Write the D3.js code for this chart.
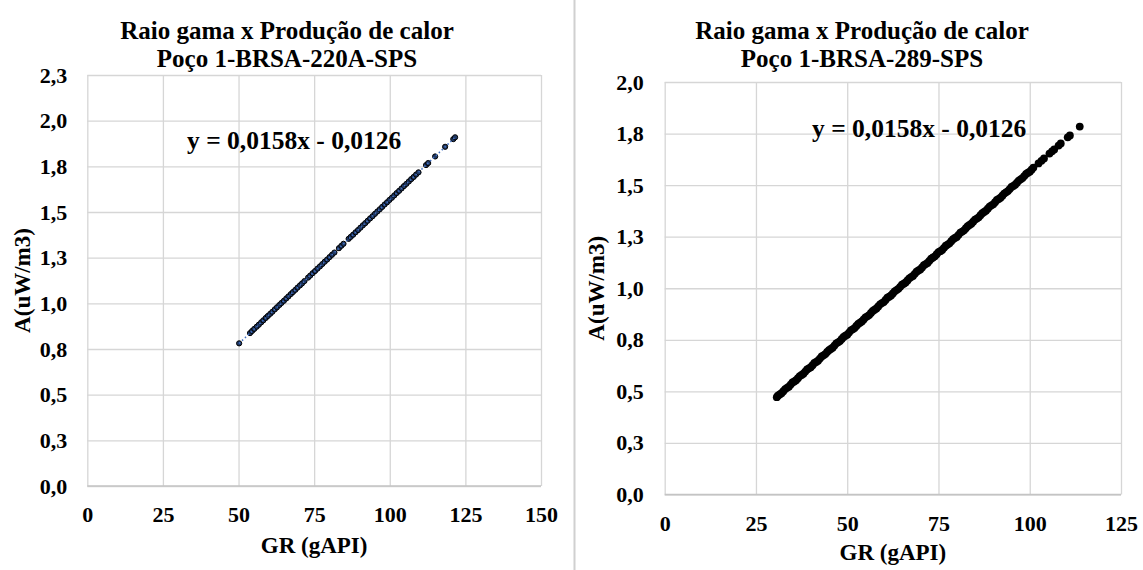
<!DOCTYPE html>
<html>
<head>
<meta charset="utf-8">
<script src="https://cdn.jsdelivr.net/npm/d3@7"></script>
<style>
  body { margin: 0; background: #fff; }
  text { font-family: "Liberation Serif", "Times New Roman", serif; font-weight: bold; fill: #000; }
</style>
</head>
<body>
<svg id="chart" width="1143" height="570"></svg>
<script>
// poço 1-BRSA-220A-SPS
const grLeft = [50.2, 53.8, 54.5, 55.2, 56.0, 56.7, 57.5, 58.2, 59.0, 59.7, 60.5, 61.2, 62.0, 62.7, 63.5,
  64.2, 65.0, 65.8, 66.5, 67.3, 68.0, 68.8, 69.5, 70.3, 71.0, 71.8, 73.0, 73.7, 74.5, 75.3, 76.1, 76.9,
  77.7, 78.5, 79.3, 80.1, 80.9, 81.7, 83.2, 84.0, 84.7, 86.4, 87.1, 87.9, 88.7, 89.5, 90.3, 91.1, 91.9,
  92.7, 93.5, 94.3, 95.1, 95.9, 96.7, 97.5, 98.3, 99.1, 99.9, 100.7, 101.5, 102.3, 103.1, 103.9, 104.7,
  105.5, 106.3, 107.1, 107.9, 108.7, 109.5, 112.0, 112.7, 115.0, 118.3, 121.0, 121.6];
const aLeft = [0.781, 0.837, 0.849, 0.860, 0.872, 0.883, 0.896, 0.907, 0.920, 0.931, 0.943, 0.954, 0.967, 0.978, 0.991,
  1.002, 1.014, 1.027, 1.038, 1.051, 1.062, 1.074, 1.086, 1.098, 1.109, 1.122, 1.141, 1.152, 1.165, 1.177, 1.190, 1.202,
  1.215, 1.228, 1.240, 1.253, 1.266, 1.278, 1.302, 1.315, 1.326, 1.353, 1.364, 1.376, 1.389, 1.401, 1.414, 1.427, 1.439,
  1.452, 1.465, 1.477, 1.490, 1.503, 1.515, 1.528, 1.541, 1.553, 1.566, 1.578, 1.591, 1.604, 1.616, 1.629, 1.642,
  1.654, 1.667, 1.680, 1.692, 1.705, 1.717, 1.757, 1.768, 1.804, 1.857, 1.899, 1.909];

// poço 1-BRSA-289-SPS (faixa densa + pontos esparsos no topo)
const grRight = [30.7, 31, 32, 33, 34, 35, 36, 37, 38, 39, 40, 41, 42, 43, 44, 45, 46, 47, 48, 49, 50,
  51, 52, 53, 54, 55, 56, 57, 58, 59, 60, 61, 62, 63, 64, 65, 66, 67, 68, 69, 70, 71, 72, 73, 74, 75,
  76, 77, 78, 79, 80, 81, 82, 83, 84, 85, 86, 87, 88, 89, 90, 91, 92, 93, 94, 95, 96, 97, 98, 99, 100,
  101, 102.4, 103.2, 103.9, 105.4, 106.1, 106.7, 107.9, 108.5, 110.4, 111.0, 113.7];
const aRight = [0.472, 0.479, 0.491, 0.511, 0.523, 0.543, 0.554, 0.574, 0.586, 0.606, 0.617, 0.638, 0.649, 0.669, 0.681, 0.700,
  0.712, 0.733, 0.744, 0.764, 0.775, 0.796, 0.807, 0.827, 0.839, 0.859, 0.870, 0.890, 0.902, 0.922, 0.933, 0.954, 0.965,
  0.985, 0.997, 1.017, 1.028, 1.048, 1.060, 1.080, 1.091, 1.112, 1.123, 1.143, 1.155, 1.175, 1.186, 1.206, 1.218, 1.238,
  1.249, 1.270, 1.281, 1.301, 1.313, 1.333, 1.344, 1.364, 1.376, 1.396, 1.407, 1.428, 1.439, 1.459, 1.471, 1.491, 1.502,
  1.522, 1.534, 1.554, 1.565, 1.585, 1.605, 1.618, 1.629, 1.653, 1.664, 1.673, 1.692, 1.702, 1.732, 1.741, 1.784];
const grRightMid = [31.5, 32.5, 33.5, 34.5, 35.5, 36.5, 37.5, 38.5, 39.5, 40.5, 41.5, 42.5, 43.5, 44.5, 45.5,
  46.5, 47.5, 48.5, 49.5, 50.5, 51.5, 52.5, 53.5, 54.5, 55.5, 56.5, 57.5, 58.5, 59.5, 60.5, 61.5, 62.5,
  63.5, 64.5, 65.5, 66.5, 67.5, 68.5, 69.5, 70.5, 71.5, 72.5, 73.5, 74.5, 75.5, 76.5, 77.5, 78.5, 79.5,
  80.5, 81.5, 82.5, 83.5, 84.5, 85.5, 86.5, 87.5, 88.5, 89.5, 90.5, 91.5, 92.5, 93.5, 94.5, 95.5, 96.5,
  97.5, 98.5, 99.5, 100.5];
const aRightMid = [0.485, 0.501, 0.517, 0.533, 0.548, 0.564, 0.580, 0.596, 0.612, 0.627, 0.643, 0.659, 0.675, 0.691, 0.706,
  0.722, 0.738, 0.754, 0.770, 0.785, 0.801, 0.817, 0.833, 0.849, 0.864, 0.880, 0.896, 0.912, 0.928, 0.943, 0.959, 0.975,
  0.991, 1.007, 1.022, 1.038, 1.054, 1.070, 1.086, 1.101, 1.117, 1.133, 1.149, 1.165, 1.180, 1.196, 1.212, 1.228, 1.244,
  1.259, 1.275, 1.291, 1.307, 1.323, 1.338, 1.354, 1.370, 1.386, 1.402, 1.417, 1.433, 1.449, 1.465, 1.481, 1.496, 1.512,
  1.528, 1.544, 1.560, 1.575];

const xTicksLeft = [0, 25, 50, 75, 100, 125, 150];
const yTicksLeft = [0, 0.25, 0.5, 0.75, 1.0, 1.25, 1.5, 1.75, 2.0, 2.25];
const yLabelsLeft = ["0,0", "0,3", "0,5", "0,8", "1,0", "1,3", "1,5", "1,8", "2,0", "2,3"];
const xTicksRight = [0, 25, 50, 75, 100, 125];
const yTicksRight = [0, 0.25, 0.5, 0.75, 1.0, 1.25, 1.5, 1.75, 2.0];
const yLabelsRight = ["0,0", "0,3", "0,5", "0,8", "1,0", "1,3", "1,5", "1,8", "2,0"];

const trendSlope = 0.0158, trendIntercept = -0.0126;
const equationText = "y = 0,0158x - 0,0126";

const svg = d3.select("#chart");
svg.append("rect").attr("width", 1143).attr("height", 570).attr("fill", "#fff");

// separador entre os dois gráficos
svg.append("line")
  .attr("x1", 574.5).attr("x2", 574.5).attr("y1", 0).attr("y2", 570)
  .attr("stroke", "#d0d0d0").attr("stroke-width", 2);

function drawPanel(p) {
  const x = d3.scaleLinear().domain([0, d3.max(p.xTicks)]).range([p.left, p.right]);
  const y = d3.scaleLinear().domain([0, d3.max(p.yTicks)]).range([p.bottom, p.top]);
  const g = svg.append("g");

  // grade
  g.append("g").attr("transform", `translate(0,${p.bottom})`)
    .call(d3.axisBottom(x).tickValues(p.xTicks).tickSize(-(p.bottom - p.top)).tickFormat(""))
    .call(s => s.select(".domain").remove())
    .selectAll("line").attr("stroke", "#d6d6d6").attr("stroke-width", 1.3);
  g.append("g").attr("transform", `translate(${p.left},0)`)
    .call(d3.axisLeft(y).tickValues(p.yTicks).tickSize(-(p.right - p.left)).tickFormat(""))
    .call(s => s.select(".domain").remove())
    .selectAll("line").attr("stroke", "#d6d6d6").attr("stroke-width", 1.3);
  g.append("line")
    .attr("x1", p.left).attr("x2", p.right).attr("y1", y(0)).attr("y2", y(0))
    .attr("stroke", "#c4c4c4").attr("stroke-width", 1.5);

  // rótulos dos eixos
  const xa = g.append("g").attr("transform", `translate(0,${p.bottom})`)
    .call(d3.axisBottom(x).tickValues(p.xTicks).tickSize(0).tickPadding(p.xPad));
  xa.select(".domain").remove();
  xa.selectAll("text").style("font-size", "22px");

  const ya = g.append("g").attr("transform", `translate(${p.left},0)`)
    .call(d3.axisLeft(y).tickValues(p.yTicks).tickSize(0).tickPadding(p.yPad)
      .tickFormat((d, i) => p.yLabels[i]));
  ya.select(".domain").remove();
  ya.selectAll("text").style("font-size", "22px");

  // pontos
  const pts = p.gr.map((v, i) => ({ gr: v, a: p.a[i] }));
  g.append("g").selectAll("circle")
    .data(pts)
    .join("circle")
    .attr("cx", d => x(d.gr))
    .attr("cy", d => y(d.a))
    .attr("r", p.r)
    .attr("fill", p.fill)
    .attr("stroke", p.stroke)
    .attr("stroke-width", p.strokeWidth);

  // linha de tendência pontilhada
  if (p.trend) {
    const ext = d3.extent(p.gr);
    g.append("line")
      .attr("x1", x(ext[0])).attr("y1", y(trendSlope * ext[0] + trendIntercept))
      .attr("x2", x(ext[1])).attr("y2", y(trendSlope * ext[1] + trendIntercept))
      .attr("stroke", "#4472c4").attr("stroke-width", 1.5)
      .attr("stroke-dasharray", "1.5,2.5");
  }

  // equação
  g.append("text").attr("x", p.eqX).attr("y", p.eqY)
    .style("font-size", "25.5px").text(equationText);

  // títulos
  const t = g.append("text").attr("text-anchor", "middle").style("font-size", "25px");
  t.append("tspan").attr("x", p.titleX).attr("y", 39).text("Raio gama x Produção de calor");
  t.append("tspan").attr("x", p.titleX).attr("y", 67).text(p.subtitle);

  g.append("text").attr("text-anchor", "middle")
    .attr("x", (p.left + p.right) / 2).attr("y", p.xTitleY)
    .style("font-size", "23px").text("GR (gAPI)");

  g.append("text").attr("text-anchor", "middle")
    .attr("transform", `translate(${p.yTitleX},${(p.top + p.bottom) / 2}) rotate(-90)`)
    .style("font-size", "23px").text("A(uW/m3)");
}

drawPanel({
  left: 87.3, right: 541, top: 75, bottom: 486,
  xTicks: xTicksLeft, yTicks: yTicksLeft, yLabels: yLabelsLeft,
  gr: grLeft, a: aLeft, r: 2.6, fill: "#1f3864", stroke: "#000", strokeWidth: 1, trend: true,
  xPad: 20, yPad: 20, eqX: 187, eqY: 149, titleX: 287, subtitle: "Poço 1-BRSA-220A-SPS",
  xTitleY: 553, yTitleX: 30
});

drawPanel({
  left: 664.7, right: 1121, top: 82, bottom: 494.5,
  xTicks: xTicksRight, yTicks: yTicksRight, yLabels: yLabelsRight,
  gr: grRight.concat(grRightMid), a: aRight.concat(aRightMid),
  r: 3.9, fill: "#000", stroke: "none", strokeWidth: 0, trend: false,
  xPad: 21, yPad: 21, eqX: 812, eqY: 137, titleX: 862, subtitle: "Poço 1-BRSA-289-SPS",
  xTitleY: 560, yTitleX: 604
});
</script>
</body>
</html>
